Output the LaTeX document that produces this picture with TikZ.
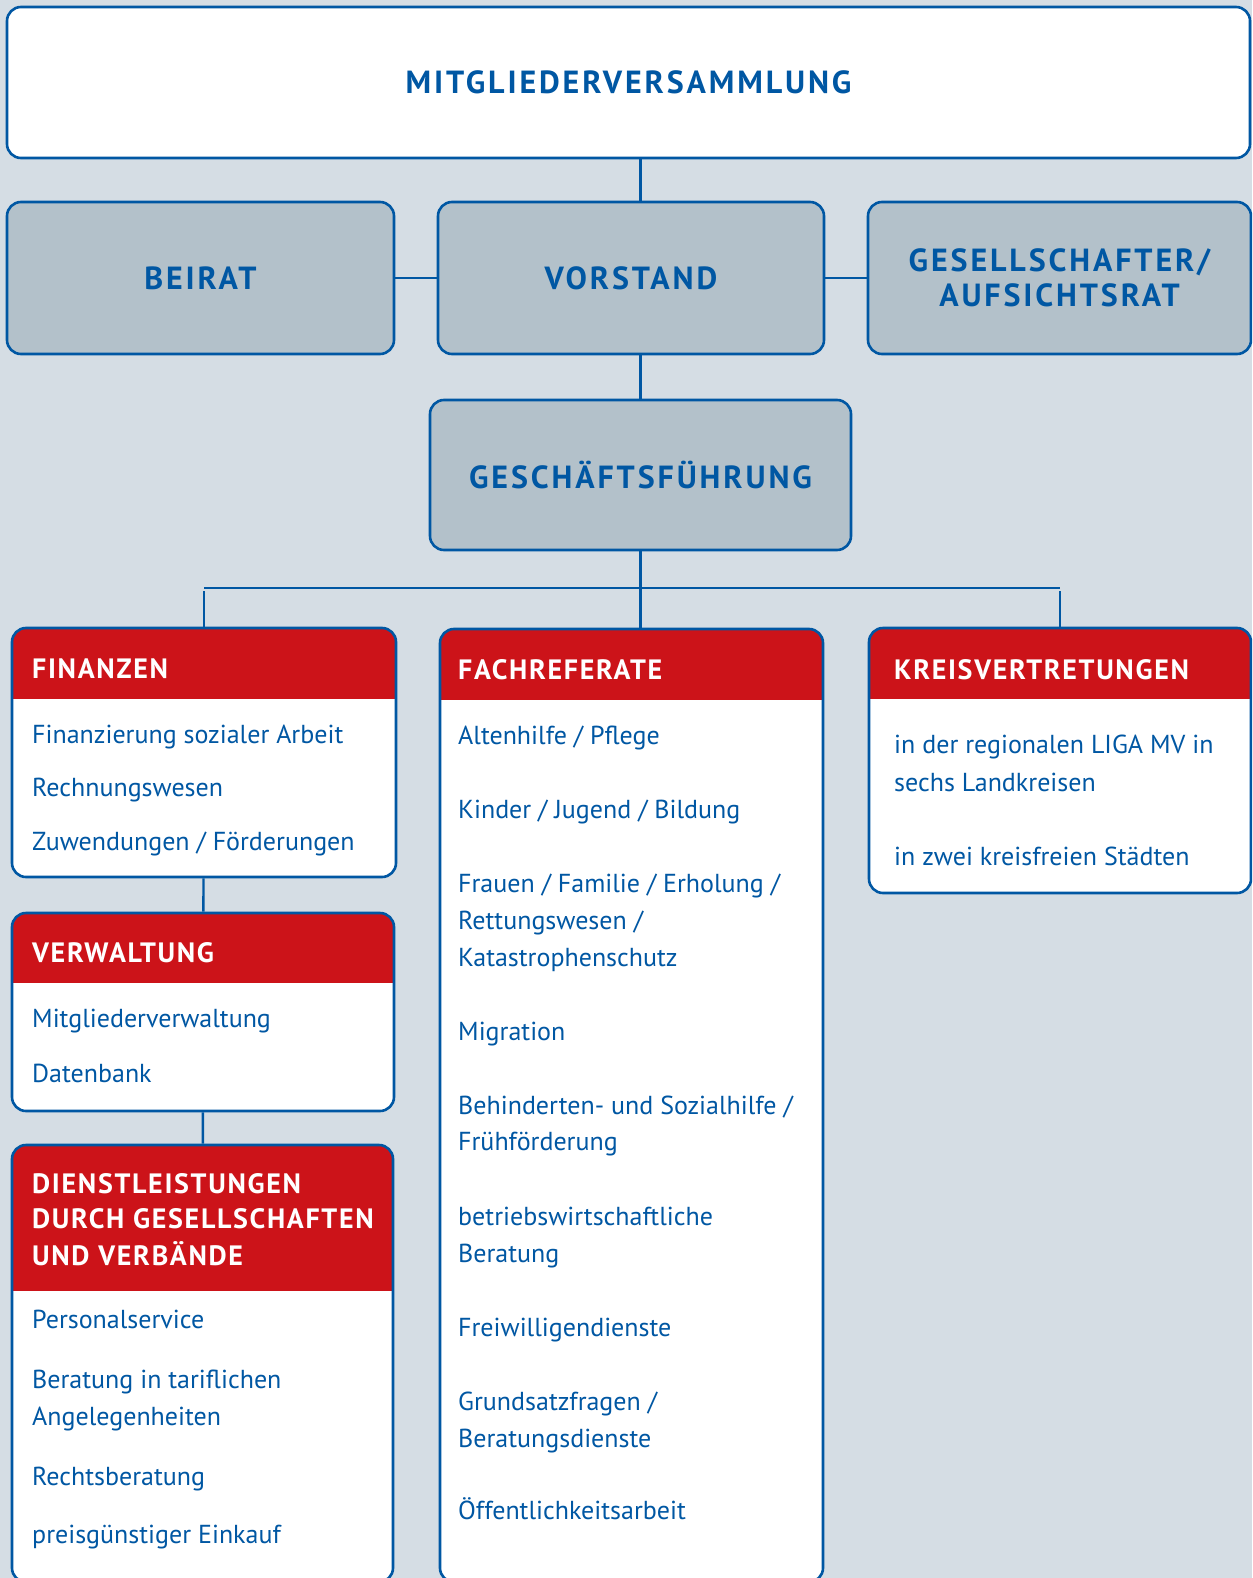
\documentclass[tikz,border=0pt]{standalone}
\usepackage{fontspec}
\setmainfont{PT Sans}
\newfontfamily\trackfont[LetterSpace=9]{PT Sans}
\newfontfamily\headfont[LetterSpace=6]{PT Sans}
\usetikzlibrary{positioning}
\definecolor{ligablue}{RGB}{0,87,163}
\definecolor{ligabg}{RGB}{213,221,228}
\definecolor{ligagrey}{RGB}{179,193,202}
\definecolor{ligared}{RGB}{204,19,25}
\tikzset{
  box/.style={draw=ligablue, line width=2.6pt, rounded corners=14pt, inner sep=0pt},
  greybox/.style={box, fill=ligagrey, text=ligablue, align=center,
    font=\trackfont\bfseries\fontsize{32}{35}\selectfont},
  card/.style={box, fill=white, path picture={
    \fill[ligared, sharp corners] (path picture bounding box.north west)
      rectangle ([yshift=-#1]path picture bounding box.north east);}},
  head/.style={anchor=base west, inner sep=0pt, text=white,
    font=\headfont\bfseries\fontsize{28}{36}\selectfont},
  item/.style={anchor=base west, inner sep=0pt, text=ligablue,
    font=\fontsize{26}{36}\selectfont},
  link/.style={draw=ligablue, line width=2.4pt}
}
\begin{document}
\begin{tikzpicture}[x=1pt, y=-1pt]
  \useasboundingbox (0,0) rectangle (1252,1578);
  \clip (0,0) rectangle (1252,1578);
  \fill[ligabg] (0,0) rectangle (1252,1578);

  % upper levels
  \node[box, fill=white, text=ligablue, minimum width=1243, minimum height=151,
    font=\trackfont\bfseries\fontsize{32}{35}\selectfont] (mv) at (628.5,82.5) {MITGLIEDERVERSAMMLUNG};
  \node[greybox, minimum width=387, minimum height=152] (beirat) at (200.5,278) {BEIRAT};
  \node[greybox, minimum width=386, minimum height=152] (vorstand) at (631,278) {VORSTAND};
  \node[greybox, minimum width=383, minimum height=152] (ges) at (1059.5,278) {GESELLSCHAFTER/\\AUFSICHTSRAT};
  \node[greybox, minimum width=421, minimum height=150] (gf) at (640.5,475) {GESCHÄFTSFÜHRUNG};

  % cards
  \node[card=71pt, minimum width=384, minimum height=249] (fin) at (204,752.5) {};
  \node[card=70pt, minimum width=382, minimum height=198] (verw) at (203,1012) {};
  \node[card=146pt, minimum width=381, minimum height=437] (dienst) at (202.5,1363.5) {};
  \node[card=71pt, minimum width=383, minimum height=953] (fach) at (631.5,1105.5) {};
  \node[card=71pt, minimum width=382, minimum height=265] (kreis) at (1060,760.5) {};

  \coordinate (bus) at (640,588);

  \draw[link] (mv.south -| gf.north) -- (vorstand.north -| gf.north);
  \draw[link] (vorstand.south -| gf.north) -- (gf.north);
  \draw[link] (beirat) -- (vorstand);
  \draw[link] (vorstand) -- (ges);
  \draw[link] (gf.south) -- (gf.south |- fach.north);
  \draw[link] ([yshift=-3pt]fin.north |- bus) -- (fin.north);
  \draw[link] ([yshift=-3pt]kreis.north |- bus) -- (kreis.north);
  \draw[link] (fin.north |- bus) -- (kreis.north |- bus);
  \draw[link] (fin) -- (verw);
  \draw[link] (verw) -- (dienst);

  % Finanzen
  \node[head] (finh) at (32,678) {FINANZEN};
  \node[item] (fin1) at (32,743) {Finanzierung sozialer Arbeit};
  \node[item] (fin2) at (32,796) {Rechnungswesen};
  \node[item] (fin3) at (32,850) {Zuwendungen / Förderungen};

  % Verwaltung
  \node[head] (verwh) at (32,962) {VERWALTUNG};
  \node[item] (verw1) at (32,1027) {Mitgliederverwaltung};
  \node[item] (verw2) at (32,1082) {Datenbank};

  % Dienstleistungen
  \node[head] (dienh1) at (32,1193) {DIENSTLEISTUNGEN};
  \node[head] (dienh2) at (32,1228) {DURCH GESELLSCHAFTEN};
  \node[head] (dienh3) at (32,1265) {UND VERBÄNDE};
  \node[item] (dien1) at (32,1328) {Personalservice};
  \node[item] (dien2) at (32,1388) {Beratung in tariflichen};
  \node[item] (dien2b) at (32,1425) {Angelegenheiten};
  \node[item] (dien3) at (32,1485) {Rechtsberatung};
  \node[item] (dien4) at (32,1543) {preisgünstiger Einkauf};

  % Fachreferate
  \node[head] (fachh) at (458,679) {FACHREFERATE};
  \node[item] (fach1) at (458,744) {Altenhilfe / Pflege};
  \node[item] (fach2) at (458,818) {Kinder / Jugend / Bildung};
  \node[item] (fach3) at (458,892) {Frauen / Familie / Erholung /};
  \node[item] (fach3b) at (458,929) {Rettungswesen /};
  \node[item] (fach3c) at (458,966) {Katastrophenschutz};
  \node[item] (fach4) at (458,1040) {Migration};
  \node[item] (fach5) at (458,1114) {Behinderten- und Sozialhilfe /};
  \node[item] (fach5b) at (458,1150) {Frühförderung};
  \node[item] (fach6) at (458,1225) {betriebswirtschaftliche};
  \node[item] (fach6b) at (458,1262) {Beratung};
  \node[item] (fach7) at (458,1336) {Freiwilligendienste};
  \node[item] (fach8) at (458,1410) {Grundsatzfragen /};
  \node[item] (fach8b) at (458,1447) {Beratungsdienste};
  \node[item] (fach9) at (458,1519) {Öffentlichkeitsarbeit};

  % Kreisvertretungen
  \node[head] (kreish) at (894,679) {KREISVERTRETUNGEN};
  \node[item] (kreis1) at (894,753) {in der regionalen LIGA MV in};
  \node[item] (kreis1b) at (894,791) {sechs Landkreisen};
  \node[item] (kreis2) at (894,865) {in zwei kreisfreien Städten};
\end{tikzpicture}
\end{document}
